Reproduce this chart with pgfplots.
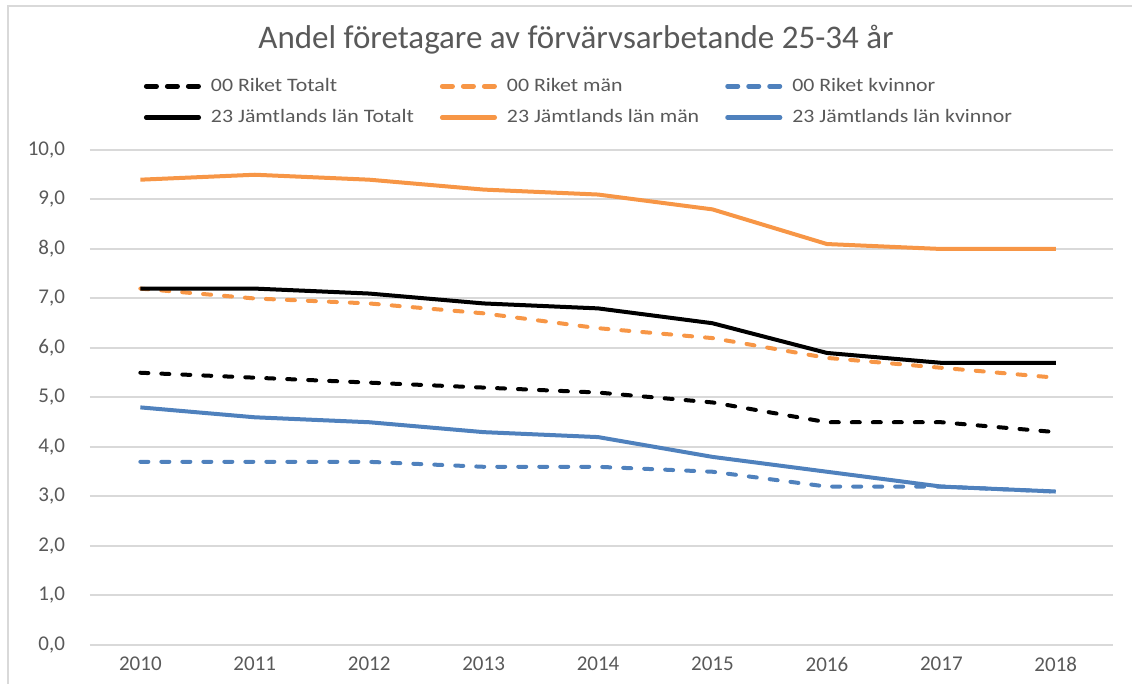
\documentclass[border=0pt]{standalone}
\usepackage{pgfplots}
\pgfplotsset{compat=1.18}
\usepackage{fontspec}
\setmainfont{Carlito}
\newfontfamily\legfont[FakeStretch=1.15]{Carlito}
\definecolor{txt}{HTML}{595959}
\definecolor{gridc}{HTML}{D9D9D9}
\definecolor{org}{HTML}{F79646}
\definecolor{blu}{HTML}{4F81BD}
\pgfplotsset{
  dashleg/.style={legend image code/.code={%
    \draw[#1, line width=2.3pt, line cap=round, dash pattern=on 5.2pt off 5.3pt] (1.15pt,0pt) -- (27.4pt,0pt);
    \path[draw=none] (0pt,0pt) -- (31.5pt,0pt);}},
  solidleg/.style={legend image code/.code={%
    \draw[#1, line width=2.3pt, line cap=round] (1.15pt,0pt) -- (27.4pt,0pt);
    \path[draw=none] (0pt,0pt) -- (31.5pt,0pt);}},
}
\begin{document}
\begin{tikzpicture}
\path[use as bounding box] (0pt,0pt) rectangle (566pt,342pt);
\draw[gridc, line width=1pt] (4pt,0pt) -- (4pt,339pt) -- (566pt,339pt);
\node[txt, font=\fontsize{16.5}{19}\selectfont] at (288pt,322pt) {Andel företagare av förvärvsarbetande 25-34 år};
\begin{axis}[at={(45pt,19.5pt)}, anchor=south west, scale only axis,
  width=511.5pt, height=247.5pt,
  xmin=2009.56, xmax=2018.5, ymin=0, ymax=10,
  xtick={2010,2011,2012,2013,2014,2015,2016,2017,2018},
  xticklabels={2010,2011,2012,2013,2014,2015,2016,2017,2018},
  ytick={0,1,2,3,4,5,6,7,8,9,10},
  yticklabels={{0,0},{1,0},{2,0},{3,0},{4,0},{5,0},{6,0},{7,0},{8,0},{9,0},{10,0}},
  axis line style={draw=none},
  ymajorgrids, grid style={gridc, line width=1pt},
  major tick length=0pt,
  tick label style={txt, font=\fontsize{10.5}{12}\selectfont},
  yticklabel style={anchor=east, xshift=-9pt},
  xticklabel style={anchor=north, yshift=-2.5pt},
  clip=false,
  legend columns=3,
  legend cell align=left,
  legend style={at={(0.479,1.162)}, anchor=north, draw=none, fill=none,
    font=\legfont\fontsize{9.5}{11}\selectfont, text=txt,
    /tikz/every even column/.append style={column sep=11pt},
    row sep=3.5pt},
  every axis plot/.append style={line width=2pt, line join=round},
]
\addplot[black, line cap=round, dash pattern=on 4pt off 6.5pt, dashleg=black] coordinates {(2010,5.5)(2011,5.4)(2012,5.3)(2013,5.2)(2014,5.1)(2015,4.9)(2016,4.5)(2017,4.5)(2018,4.3)};
\addlegendentry{00 Riket Totalt}
\addplot[org, line cap=round, dash pattern=on 4pt off 6.5pt, dashleg=org] coordinates {(2010,7.2)(2011,7.0)(2012,6.9)(2013,6.7)(2014,6.4)(2015,6.2)(2016,5.8)(2017,5.6)(2018,5.4)};
\addlegendentry{00 Riket män}
\addplot[blu, line cap=round, dash pattern=on 4pt off 6.5pt, dashleg=blu] coordinates {(2010,3.7)(2011,3.7)(2012,3.7)(2013,3.6)(2014,3.6)(2015,3.5)(2016,3.2)(2017,3.2)(2018,3.1)};
\addlegendentry{00 Riket kvinnor}
\addplot[black, solidleg=black] coordinates {(2010,7.2)(2011,7.2)(2012,7.1)(2013,6.9)(2014,6.8)(2015,6.5)(2016,5.9)(2017,5.7)(2018,5.7)};
\addlegendentry{23 Jämtlands län Totalt}
\addplot[org, solidleg=org] coordinates {(2010,9.4)(2011,9.5)(2012,9.4)(2013,9.2)(2014,9.1)(2015,8.8)(2016,8.1)(2017,8.0)(2018,8.0)};
\addlegendentry{23 Jämtlands län män}
\addplot[blu, solidleg=blu] coordinates {(2010,4.8)(2011,4.6)(2012,4.5)(2013,4.3)(2014,4.2)(2015,3.8)(2016,3.5)(2017,3.2)(2018,3.1)};
\addlegendentry{23 Jämtlands län kvinnor}
\end{axis}
\end{tikzpicture}
\end{document}
